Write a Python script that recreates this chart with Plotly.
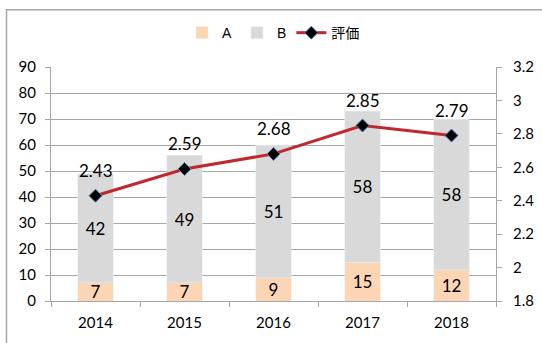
import plotly.graph_objects as go

years = ["2014", "2015", "2016", "2017", "2018"]
a_vals = [7, 7, 9, 15, 12]
b_vals = [42, 49, 51, 58, 58]
rating = [2.43, 2.59, 2.68, 2.85, 2.79]

num_font = "Lato, 'Open Sans', sans-serif"
label_font = dict(family=num_font, size=17, color="#000000")

fig = go.Figure()
fig.add_trace(go.Bar(
    x=years, y=a_vals, name="A", marker_color="#FCD5B5",
    text=[str(v) for v in a_vals], textposition="inside",
    insidetextanchor="middle", textangle=0, constraintext="none",
    textfont=label_font, cliponaxis=False,
))
fig.add_trace(go.Bar(
    x=years, y=b_vals, name="B", marker_color="#D9D9D9",
    text=[str(v) for v in b_vals], textposition="inside",
    insidetextanchor="middle", textangle=0, constraintext="none",
    textfont=label_font, cliponaxis=False,
))
fig.add_trace(go.Scatter(
    x=years, y=rating, name="評価", yaxis="y2", mode="lines+markers",
    line=dict(color="#C0282E", width=3),
    marker=dict(symbol="diamond", size=10, color="#000000",
                line=dict(color="#4F81BD", width=1)),
))

# rating labels above each marker (x given as category index)
for i, r in enumerate(rating):
    fig.add_annotation(
        x=i, y=r, yref="y2", text=f"{r:.2f}", showarrow=False,
        yanchor="bottom", yshift=13, font=label_font,
    )

# outer chart frame
fig.add_shape(
    type="rect", xref="paper", yref="paper",
    x0=-0.1, x1=1.3, y0=-0.4, y1=1.245,
    line=dict(color="#A6A6A6", width=1.5), fillcolor="rgba(0,0,0,0)",
    layer="below",
)

fig.update_layout(
    width=542, height=343,
    margin=dict(l=51, r=46, t=67, b=42, autoexpand=False),
    paper_bgcolor="#FFFFFF", plot_bgcolor="#FFFFFF",
    barmode="stack", bargap=0.6,
    showlegend=True,
    legend=dict(
        orientation="h", x=0.5, xanchor="center", y=1.145, yanchor="middle",
        bgcolor="rgba(0,0,0,0)",
        font=dict(family="'Liberation Sans', 'Noto Sans CJK JP', sans-serif", size=14, color="#000000"),
        traceorder="normal", itemwidth=30,
    ),
    xaxis=dict(
        type="category", range=[-0.5, 4.5], showgrid=False, showline=True,
        linecolor="#A6A6A6", ticks="outside", ticklen=5, tickcolor="#A6A6A6",
        tickson="boundaries", ticklabelstandoff=8,
        tickfont=dict(family=num_font, size=15, color="#000000"),
    ),
    yaxis=dict(
        range=[0, 90], dtick=10, showgrid=True, gridcolor="#A6A6A6",
        showline=True, linecolor="#A6A6A6", ticks="outside", ticklen=5,
        tickcolor="#A6A6A6", zeroline=False, ticklabelstandoff=6,
        tickfont=dict(family=num_font, size=15, color="#000000"),
    ),
    yaxis2=dict(
        range=[1.8, 3.2], dtick=0.2, overlaying="y", side="right",
        showgrid=False, showline=True, linecolor="#A6A6A6", ticks="outside",
        ticklen=5, tickcolor="#A6A6A6", zeroline=False, tickformat="~g",
        ticklabelstandoff=8,
        tickfont=dict(family=num_font, size=15, color="#000000"),
    ),
)

fig.write_html("out.html")
